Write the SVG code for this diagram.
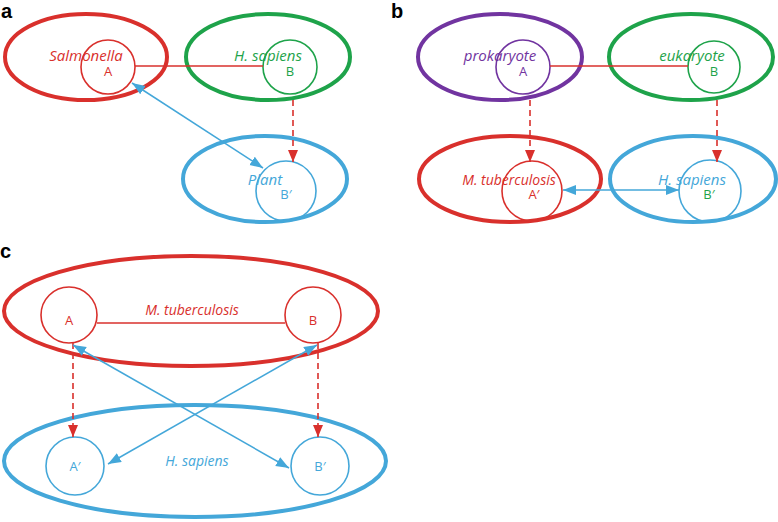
<svg xmlns="http://www.w3.org/2000/svg" width="778" height="522" viewBox="0 0 778 522">
<style>
.bg{fill:#ffffff}
.big{fill:none;stroke-width:4}
.sm{fill:none;stroke-width:1.6}
.red{stroke:#d9302c}
.grn{stroke:#1ea34a}
.blu{stroke:#44a7d9}
.pur{stroke:#7134a0}
.lbl{font-family:"Open Sans","Liberation Sans",sans-serif;font-style:italic;text-anchor:middle}
.let{font-family:"Open Sans","Liberation Sans",sans-serif;font-size:13px;text-anchor:middle}
.pn{font-family:"Liberation Sans",Arial,sans-serif;font-weight:bold;font-size:20px;fill:#000}
.tr{fill:#d9302c}.tg{fill:#1ea34a}.tb{fill:#44a7d9}.tp{fill:#7134a0}
.link{stroke:#d9302c;stroke-width:1.3;fill:none}
.dash{stroke:#d9302c;stroke-width:1.6;stroke-dasharray:6 4;fill:none;marker-end:url(#ar)}
.dbl{stroke:#44a7d9;stroke-width:1.5;fill:none;marker-start:url(#ab);marker-end:url(#ab)}
</style>
<defs>
<marker id="ar" markerUnits="userSpaceOnUse" markerWidth="12" markerHeight="12" refX="12" refY="5" orient="auto"><path d="M0,0 L12,5 L0,10 z" fill="#d9302c"/></marker>
<marker id="ab" markerUnits="userSpaceOnUse" markerWidth="13" markerHeight="12" refX="13" refY="5" orient="auto-start-reverse"><path d="M0,0 L13,5 L0,10 z" fill="#44a7d9"/></marker>
</defs>
<rect class="bg" x="0" y="0" width="778" height="522"/>

<text class="pn" x="1" y="18">a</text>
<text class="pn" x="391" y="18">b</text>
<text class="pn" x="0" y="258">c</text>

<g id="a-salmonella"><ellipse class="big red" cx="86" cy="57" rx="81" ry="43"/><text class="lbl tr" x="86" y="61" font-size="15">Salmonella</text></g>
<g id="a-A"><circle class="sm red" cx="108" cy="67" r="27"/><text class="let tr" x="108" y="76">A</text></g>
<g id="a-hsapiens"><ellipse class="big grn" cx="268" cy="57" rx="82" ry="43"/><text class="lbl tg" x="268" y="61" font-size="15">H. sapiens</text></g>
<g id="a-B"><circle class="sm grn" cx="290" cy="67" r="27"/><text class="let tg" x="290" y="76">B</text></g>
<g id="a-plant"><ellipse class="big blu" cx="265" cy="179" rx="82" ry="43"/><text class="lbl tb" x="265" y="185" font-size="15">Plant</text></g>
<g id="a-Bp"><circle class="sm blu" cx="286" cy="191" r="30"/><text class="let tb" x="286" y="199">B′</text></g>

<g id="b-prokaryote"><ellipse class="big pur" cx="500" cy="57" rx="82" ry="43"/><text class="lbl tp" x="500" y="61" font-size="15">prokaryote</text></g>
<g id="b-A"><circle class="sm pur" cx="523" cy="67" r="27"/><text class="let tp" x="523" y="76">A</text></g>
<g id="b-eukaryote"><ellipse class="big grn" cx="691" cy="57" rx="82" ry="43"/><text class="lbl tg" x="692" y="61" font-size="15">eukaryote</text></g>
<g id="b-B"><circle class="sm grn" cx="714" cy="67" r="26"/><text class="let tg" x="714" y="76">B</text></g>
<g id="b-mtb"><ellipse class="big red" cx="510" cy="179" rx="91" ry="43"/><text class="lbl tr" x="509" y="185" font-size="14">M. tuberculosis</text></g>
<g id="b-Ap"><circle class="sm red" cx="532" cy="191" r="30"/><text class="let tr" x="534" y="199">A′</text></g>
<g id="b-hsapiens"><ellipse class="big blu" cx="693" cy="179" rx="83" ry="43"/><text class="lbl tb" x="692" y="185" font-size="15">H. sapiens</text></g>
<g id="b-Bp"><circle class="sm blu" cx="710" cy="191" r="31"/><text class="let tg" x="709" y="199">B′</text></g>

<g id="c-mtb"><ellipse class="big red" cx="191" cy="311" rx="187" ry="55"/><text class="lbl tr" x="192" y="315" font-size="14">M. tuberculosis</text></g>
<g id="c-A"><circle class="sm red" cx="69" cy="315" r="28"/><text class="let tr" x="69" y="325">A</text></g>
<g id="c-B"><circle class="sm red" cx="313" cy="315" r="28"/><text class="let tr" x="313" y="325">B</text></g>
<g id="c-hsapiens"><ellipse class="big blu" cx="195" cy="461" rx="191" ry="56"/><text class="lbl tb" x="197" y="466" font-size="14">H. sapiens</text></g>
<g id="c-Ap"><circle class="sm blu" cx="75" cy="466" r="29"/><text class="let tb" x="75" y="471">A′</text></g>
<g id="c-Bp"><circle class="sm blu" cx="320" cy="466" r="29"/><text class="let tb" x="320" y="471">B′</text></g>

<g id="connectors">
<line class="link" x1="135" y1="66" x2="263" y2="66"/>
<path class="dash" d="M293,100 L293,162"/>
<path class="dbl" d="M132,83 L263,168"/>
<line class="link" x1="550" y1="66" x2="688" y2="66"/>
<path class="dash" d="M530,100 L530,162"/>
<path class="dash" d="M717,100 L717,162"/>
<path class="dbl" d="M563,190 L679,190"/>
<line class="link" x1="97" y1="323" x2="285" y2="323"/>
<path class="dash" d="M73,343 L73,437"/>
<path class="dash" d="M318,343 L318,437"/>
<path class="dbl" d="M73,345 L289,468"/>
<path class="dbl" d="M317,345 L108,464"/>
</g>
</svg>
